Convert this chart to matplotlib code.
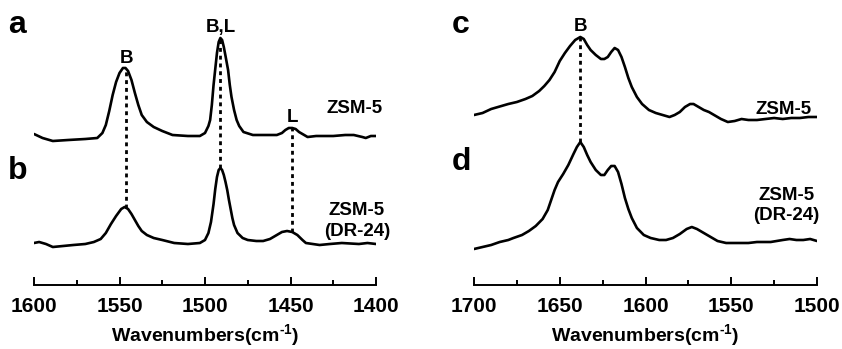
import numpy as np
import matplotlib
matplotlib.use("Agg")
import matplotlib.pyplot as plt
from matplotlib.ticker import MultipleLocator

plt.rcParams["font.family"] = ["Liberation Sans", "DejaVu Sans"]
plt.rcParams["font.weight"] = "bold"
plt.rcParams["mathtext.fontset"] = "custom"
plt.rcParams["mathtext.rm"] = "Liberation Sans:bold"
plt.rcParams["mathtext.bf"] = "Liberation Sans:bold"
plt.rcParams["mathtext.it"] = "Liberation Sans:bold"

# --- left panel: pyridine region (a, b) ---
wn_ab_a = [1600, 1595, 1589, 1580, 1570, 1563, 1560, 1558, 1556, 1554, 1552, 1550,
           1548, 1546.5, 1545, 1543, 1541, 1539, 1537, 1534, 1530, 1525, 1519, 1510,
           1503, 1500, 1498, 1497, 1496, 1495, 1494, 1493, 1492, 1491, 1490, 1489,
           1488, 1486.5, 1485.5, 1484.5, 1483, 1481.5, 1480, 1477.5, 1472, 1465, 1458,
           1455, 1453, 1451, 1449, 1447, 1445, 1442, 1440, 1435, 1425, 1418, 1413,
           1408, 1406, 1403, 1400]
abs_a = [1, -3, -6, -5, -4, -3, 2, 10, 24, 40, 53, 62,
         67, 67, 64, 55, 42, 30, 20, 13, 8, 4, 0, -1,
         -1, 2, 9, 15, 30, 50, 66, 82, 93, 97, 95, 88,
         79, 65, 50, 38, 25, 15, 9, 3, 0, 0, 0,
         2, 5, 7, 7, 6, 3, 0, -2, -1, -1, 0, 0,
         -2, -3, -1, -1]

wn_ab_b = [1600, 1597, 1593, 1589, 1583, 1577, 1570, 1565, 1561, 1558, 1555, 1552,
           1549, 1547, 1545, 1543, 1541, 1539, 1537, 1534, 1530, 1525, 1518, 1510,
           1503, 1500, 1498, 1496.5, 1495, 1494, 1493, 1492, 1491, 1490, 1489, 1488,
           1487, 1486, 1485, 1484, 1483, 1481, 1478, 1475, 1470, 1466, 1462, 1458,
           1455, 1452, 1449, 1446, 1443, 1441, 1437, 1433, 1427, 1420, 1410, 1405, 1400]
abs_b = [1, 2, 0, -3, -2, -1, 0, 2, 5, 11, 20, 28,
         35, 37, 35, 30, 24, 18, 13, 9, 6, 4, 1, 0,
         1, 4, 11, 22, 40, 55, 67, 74, 76, 74, 69, 62,
         54, 44, 35, 26, 19, 11, 6, 4, 3, 3, 5, 9,
         12, 13, 12, 9, 4, 1, 0, -1, 0, 1, 0, 1, 0]

# --- right panel: water/hydroxyl region (c, d) ---
wn_cd_c = [1700, 1695, 1690, 1686, 1680, 1675, 1670, 1666, 1662, 1659, 1656, 1653,
           1650, 1647, 1644, 1641, 1638, 1636, 1634, 1632, 1629, 1626, 1624, 1622,
           1620, 1618, 1616, 1614, 1612, 1610, 1608, 1605, 1602, 1598, 1594, 1590,
           1586, 1583, 1580, 1577, 1574, 1572, 1569, 1566, 1563, 1560, 1556, 1552,
           1548, 1544, 1540, 1535, 1530, 1525, 1520, 1515, 1510, 1505, 1500]
abs_c = [2, 4, 8, 10, 13, 15, 18, 21, 26, 31, 37, 45,
         56, 64, 71, 77, 80, 78, 72, 67, 62, 58, 58, 60,
         65, 69, 67, 60, 50, 39, 30, 20, 13, 7, 4, 2,
         0, 2, 5, 10, 13, 13, 10, 7, 5, 2, -2, -5,
         -4, -2, -3, -3, -2, -1, -2, -1, -1, 0, 0]

wn_cd_d = [1700, 1695, 1690, 1685, 1680, 1677, 1672, 1668, 1664, 1660, 1657, 1655,
           1653, 1651, 1648, 1645, 1642, 1640, 1638, 1636, 1634, 1632, 1629, 1626,
           1624, 1622, 1620, 1618, 1616, 1614, 1612, 1610, 1608, 1605, 1601, 1597,
           1592, 1588, 1584, 1580, 1576, 1573, 1570, 1566, 1562, 1558, 1553, 1548,
           1540, 1535, 1527, 1520, 1516, 1512, 1508, 1504, 1500]
abs_d = [-7, -5, -3, 0, 2, 4, 7, 11, 16, 23, 32, 42,
         52, 60, 68, 77, 88, 95, 100, 95, 87, 80, 72, 67,
         67, 72, 76, 76, 70, 58, 44, 33, 24, 14, 7, 4,
         2, 2, 4, 8, 13, 15, 13, 9, 5, 1, -1, -1,
         -1, 0, 0, 2, 3, 2, 2, 3, 1]

sample_top = "ZSM-5"
sample_bottom = "ZSM-5\n(DR-24)"
marks_left = [(1546, "B"), (1491, "B,L"), (1449, "L")]
marks_right = [(1638, "B")]


def value_at(x, wn, ab):
    return np.interp(x, wn[::-1], ab[::-1])


def draw_panel(ax, wn_top, ab_top, wn_bot, ab_bot, off_top, off_bot, marks,
               xlim, letters, letter_y, lab_top, lab_bot):
    wt = np.array(wn_top, float)
    at = np.array(ab_top, float) + off_top
    wb = np.array(wn_bot, float)
    ab = np.array(ab_bot, float) + off_bot
    ax.plot(wt, at, color="black", lw=1.9, solid_capstyle="round")
    ax.plot(wb, ab, color="black", lw=1.9, solid_capstyle="round")
    for x, lab in marks:
        y1 = value_at(x, wt, at)
        y0 = value_at(x, wb, ab)
        ax.plot([x, x], [y0, y1], color="black", lw=2.0, ls=(0, (1.4, 1.4)))
        ax.text(x, y1 + 6, lab, ha="center", va="baseline", fontsize=13.5,
                fontweight="bold")
    ax.set_xlim(*xlim)
    ax.set_ylim(0, 275)
    for s in ["left", "right", "top"]:
        ax.spines[s].set_visible(False)
    ax.spines["bottom"].set_linewidth(1.4)
    ax.set_yticks([])
    ax.xaxis.set_major_locator(MultipleLocator(50))
    ax.xaxis.set_minor_locator(MultipleLocator(25))
    ax.tick_params(axis="x", which="major", direction="in", length=6, width=1.4,
                   labelsize=15, pad=9)
    ax.tick_params(axis="x", which="minor", direction="in", length=3.5, width=1.4)
    for t in ax.get_xticklabels():
        t.set_fontweight("bold")
    ax.set_xlabel(r"Wavenumbers(cm$^{\text{-1}}$)", fontsize=14,
                  fontweight="bold", labelpad=4)
    ax.text(letter_y[0], letter_y[1], letters[0], transform=ax.transAxes,
            fontsize=23, fontweight="bold", va="baseline", ha="left")
    ax.text(letter_y[0], letter_y[2], letters[1], transform=ax.transAxes,
            fontsize=23, fontweight="bold", va="baseline", ha="left")
    ax.text(lab_top[0], lab_top[1], sample_top, transform=ax.transAxes,
            fontsize=13.5, fontweight="bold", ha="right", va="baseline")
    ax.text(lab_bot[0], lab_bot[1], sample_bottom, transform=ax.transAxes,
            fontsize=13.5, fontweight="bold", ha="center", va="baseline",
            multialignment="center", linespacing=1.25)


fig = plt.figure(figsize=(8.42, 3.49), dpi=100)
ax1 = fig.add_axes([34 / 842, 64 / 349, 342 / 842, 275 / 349])
ax2 = fig.add_axes([474 / 842, 64 / 349, 343 / 842, 275 / 349])

draw_panel(ax1, wn_ab_a, abs_a, wn_ab_b, abs_b, 150, 41, marks_left,
           (1600, 1400), ("a", "b"), (-0.076, 0.916, 0.385),
           (1.02, 0.625), (0.944, 0.18))
draw_panel(ax2, wn_cd_c, abs_c, wn_cd_d, abs_d, 168, 43, marks_right,
           (1700, 1500), ("c", "d"), (-0.064, 0.916, 0.418),
           (0.985, 0.622), (0.91, 0.236))

fig.savefig("out.png", dpi=100)
